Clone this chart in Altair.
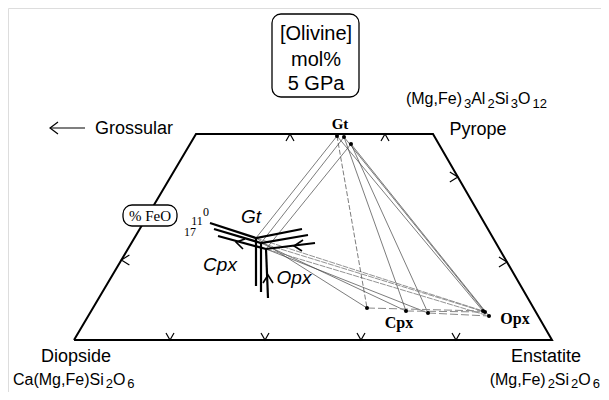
import altair as alt
import pandas as pd

# ---------------- data (diagram units) ----------------
frame_x = [74, 196, 433, 552, 74]
frame_y = [340, 134, 134, 340, 340]

bottom_tick_x = [170, 265, 361, 456]
top_tick_x = [290, 385]
right_tick_y = [177, 262]
left_tick_y = [260]

# analysed phase compositions (three experiments)
gt_x = [337, 344, 351]
gt_y = [136, 137, 144]
cpx_x = [367, 406, 428]
cpx_y = [308, 311, 313]
opx_x = [483, 485, 489]
opx_y = [311, 312, 316]

# schematic %FeO trend diagram (FeO = 0, 11, 17)
feo_vals = ["0", "11", "17"]
junc_x = [256, 261, 266]
junc_y = [238, 243, 249]
cpx_end_x = [210, 214, 218]
cpx_end_y = [223, 229, 236]
gt_end_x = [302, 308, 315]
gt_end_y = [229, 235, 243]
opx_end_x = [256, 261, 268]
opx_end_y = [286, 292, 298]

# end-member formulas: (text, is_subscript)
pyrope_formula = [("(Mg,Fe)", 0), ("3", 1), ("Al", 0), ("2", 1), ("Si", 0), ("3", 1), ("O", 0), ("12", 1)]
diopside_formula = [("Ca(Mg,Fe)Si", 0), ("2", 1), ("O", 0), ("6", 1)]
enstatite_formula = [("(Mg,Fe)", 0), ("2", 1), ("Si", 0), ("2", 1), ("O", 0), ("6", 1)]

# ---------------- build tables ----------------
rows = []
sid = [0]


def poly(xs, ys, kind):
    sid[0] += 1
    for i, (x, y) in enumerate(zip(xs, ys)):
        rows.append(dict(seg=sid[0], ord=i, x=x, y=y, kind=kind))


poly(frame_x, frame_y, "frame")

for x in bottom_tick_x:
    poly([x - 4, x, x + 4], [333, 340, 333], "tick")
for x in top_tick_x:
    poly([x - 4, x, x + 4], [141, 134, 141], "tick")
for y in right_tick_y:
    xe = frame_x[2] + (frame_x[3] - frame_x[2]) * (y - frame_y[2]) / (frame_y[3] - frame_y[2])
    poly([xe - 8, xe, xe - 8], [y - 5, y, y + 5], "tick")
for y in left_tick_y:
    xe = frame_x[1] - (frame_x[1] - frame_x[0]) * (y - frame_y[1]) / (frame_y[0] - frame_y[1])
    poly([xe + 8, xe, xe + 8], [y - 5, y, y + 5], "tick")

# Grossular arrow
poly([85, 50], [128, 128], "tick")
poly([58, 50, 58], [122, 128, 134], "tick")

# tie lines
for i in range(3):
    poly([gt_x[i], cpx_x[i]], [gt_y[i], cpx_y[i]], "dash" if i == 0 else "thin")
    poly([gt_x[i], opx_x[i]], [gt_y[i], opx_y[i]], "thin")
    poly([cpx_x[i], opx_x[i]], [cpx_y[i], opx_y[i]], "dashgray")
    poly([junc_x[i], gt_x[i]], [junc_y[i], gt_y[i]], "thin")
    poly([junc_x[i], opx_x[i]], [junc_y[i], opx_y[i]], "thingray")
    poly([junc_x[i], cpx_x[i]], [junc_y[i], cpx_y[i]], "thin")

# schematic thick lines
for i in range(3):
    poly([cpx_end_x[i], junc_x[i], gt_end_x[i]], [cpx_end_y[i], junc_y[i], gt_end_y[i]], "thick")
    poly([junc_x[i], opx_end_x[i]], [junc_y[i], opx_end_y[i]], "thick")

# arrowheads on the schematic lines
poly([245, 236, 243], [239, 242, 249], "arrow")
poly([303, 294, 302], [240, 246, 251], "arrow")
poly([263, 268, 273], [283, 275, 283], "arrow")

segs = pd.DataFrame(rows)

pts = pd.DataFrame(dict(x=gt_x + cpx_x + opx_x, y=gt_y + cpx_y + opx_y))

boxes = pd.DataFrame([
    dict(x=272, x2=359, y=14, y2=97),
    dict(x=123, x2=177, y=205, y2=226),
])

sans = pd.DataFrame([
    dict(t="Grossular", x=134, y=134, s=18),
    dict(t="Pyrope", x=478, y=135, s=18),
    dict(t="Diopside", x=76, y=362, s=18),
    dict(t="Enstatite", x=546, y=362, s=18),
    dict(t="[Olivine]", x=316, y=40, s=20),
    dict(t="mol%", x=316, y=66, s=20),
    dict(t="5 GPa", x=316, y=90, s=20),
])

# formula layout with Arial-metric advance widths
W = {'(': .333, ')': .333, 'M': .833, 'g': .556, ',': .278, 'F': .611, 'e': .556, 'A': .667,
     'l': .222, 'S': .667, 'i': .222, 'O': .778, 'C': .722, 'a': .556}
MAIN, SUB, GAP, DROP = 16, 13, 2, 3


def width(t, s):
    return sum(W.get(c, .556) for c in t) * s


def formula(pieces, x0=None, x1=None, base=0, drop=DROP):
    tot = sum(width(t, SUB if sub else MAIN) + (GAP if sub else 0) for t, sub in pieces)
    x = x0 if x0 is not None else x1 - tot
    out = []
    for t, sub in pieces:
        if sub:
            x += GAP
        s = SUB if sub else MAIN
        out.append(dict(t=t, x=x, y=base + (drop if sub else 0), s=s))
        x += width(t, s)
    return out


ftab = pd.DataFrame(
    formula(pyrope_formula, x1=547, base=104, drop=4)
    + formula(diopside_formula, x0=13, base=385)
    + formula(enstatite_formula, x1=600, base=385)
)

ital = pd.DataFrame([
    dict(t="Gt", x=251, y=223),
    dict(t="Cpx", x=220, y=271),
    dict(t="Opx", x=294, y=284),
])

serif = pd.DataFrame([
    dict(t="Gt", x=340, y=129, s=15, w="bold"),
    dict(t="Cpx", x=399, y=328, s=16, w="bold"),
    dict(t="Opx", x=515, y=324, s=16, w="bold"),
    dict(t="% FeO", x=150, y=221, s=15, w="normal"),
    dict(t=feo_vals[0], x=206, y=216, s=12, w="normal"),
    dict(t=feo_vals[1], x=197, y=225, s=12, w="normal"),
    dict(t=feo_vals[2], x=190, y=236, s=12, w="normal"),
])

# ---------------- chart ----------------
X = alt.X("x:Q", scale=alt.Scale(domain=[8, 601], nice=False, zero=False), axis=None)
Y = alt.Y("y:Q", scale=alt.Scale(domain=[8, 392], nice=False, zero=False, reverse=True), axis=None)

base = alt.Chart(segs)


def lines(kind, **kw):
    return base.transform_filter(alt.datum.kind == kind).mark_line(**kw).encode(
        x=X, y=Y, detail="seg:N", order="ord:Q")


layers = [
    lines("thin", stroke="#444444", strokeWidth=0.7),
    lines("thingray", stroke="#777777", strokeWidth=0.8, strokeDash=[6, 1]),
    lines("dash", stroke="#444444", strokeWidth=0.7, strokeDash=[5, 2]),
    lines("dashgray", stroke="#888888", strokeWidth=1.0, strokeDash=[8, 3]),
    lines("frame", stroke="black", strokeWidth=2),
    lines("tick", stroke="black", strokeWidth=1.2),
    lines("thick", stroke="black", strokeWidth=2.2),
    lines("arrow", stroke="black", strokeWidth=1.6),
    alt.Chart(pts).mark_circle(color="black", size=16, opacity=1).encode(x=X, y=Y),
    alt.Chart(boxes).mark_rect(fill="white", stroke="black", strokeWidth=1.3, cornerRadius=9).encode(
        x=X, x2="x2:Q", y=Y, y2="y2:Q"),
]

for s in sorted(sans.s.unique()):
    layers.append(alt.Chart(sans[sans.s == s]).mark_text(
        font="Liberation Sans", fontSize=int(s), baseline="alphabetic", align="center", color="black"
    ).encode(x=X, y=Y, text="t:N"))

for s in sorted(ftab.s.unique()):
    layers.append(alt.Chart(ftab[ftab.s == s]).mark_text(
        font="Liberation Sans", fontSize=int(s), baseline="alphabetic", align="left", color="black"
    ).encode(x=X, y=Y, text="t:N"))

layers.append(alt.Chart(ital).mark_text(
    font="Liberation Sans", fontSize=19, fontStyle="italic", baseline="alphabetic", align="center",
    color="black").encode(x=X, y=Y, text="t:N"))

for (s, w), g in serif.groupby(["s", "w"]):
    layers.append(alt.Chart(g).mark_text(
        font="Liberation Serif", fontSize=int(s), fontWeight=w, baseline="alphabetic", align="center",
        color="black").encode(x=X, y=Y, text="t:N"))

chart = alt.layer(*layers).properties(
    width=593, height=384, padding=0, autosize=alt.AutoSizeParams(type="none")
).configure_view(stroke=None).configure(background="white")

chart.save("out.html", embed_options={"renderer": "svg", "actions": False})
